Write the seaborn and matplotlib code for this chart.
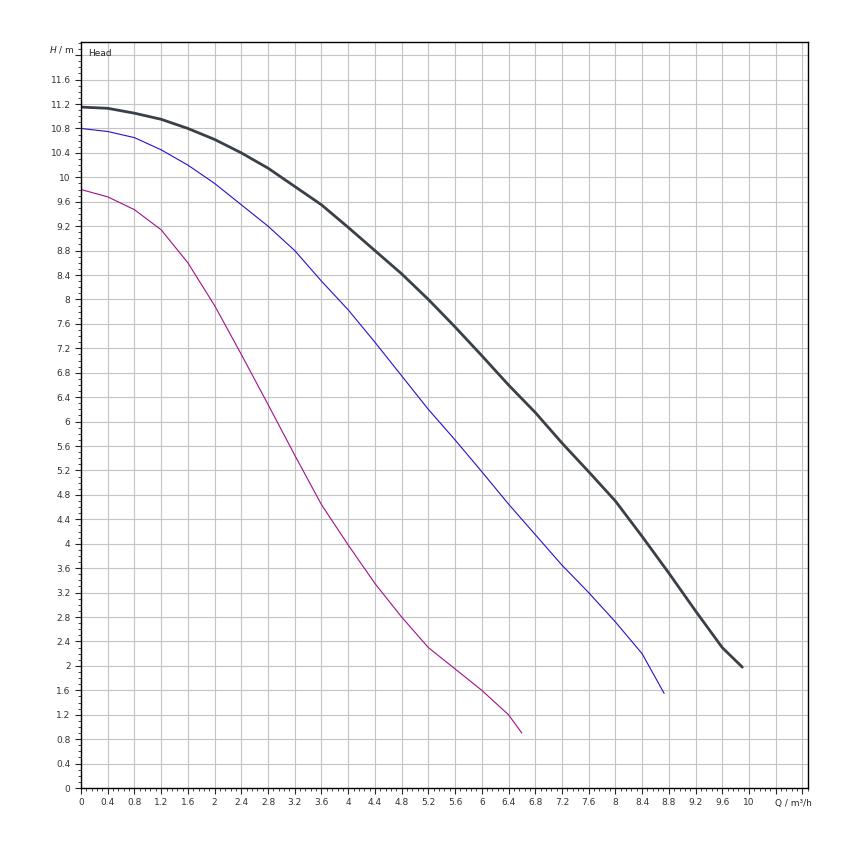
import numpy as np
import matplotlib
matplotlib.use("Agg")
import matplotlib.pyplot as plt
import seaborn as sns
from matplotlib.ticker import MultipleLocator

q_black = [0, 0.4, 0.8, 1.2, 1.6, 2, 2.4, 2.8, 3.2, 3.6, 4, 4.4, 4.8, 5.2, 5.6, 6, 6.4, 6.8, 7.2, 7.6, 8, 8.4, 8.8, 9.2, 9.6, 9.9]
h_black = [11.15, 11.13, 11.05, 10.95, 10.8, 10.62, 10.4, 10.15, 9.85, 9.55, 9.18, 8.8, 8.42, 8.0, 7.55, 7.08, 6.6, 6.15, 5.65, 5.18, 4.7, 4.12, 3.52, 2.9, 2.3, 1.98]
q_blue = [0, 0.4, 0.8, 1.2, 1.6, 2, 2.4, 2.8, 3.2, 3.6, 4, 4.4, 4.8, 5.2, 5.6, 6, 6.4, 6.8, 7.2, 7.6, 8, 8.4, 8.73]
h_blue = [10.8, 10.75, 10.65, 10.45, 10.2, 9.9, 9.55, 9.2, 8.8, 8.3, 7.83, 7.3, 6.75, 6.2, 5.7, 5.18, 4.65, 4.15, 3.65, 3.2, 2.72, 2.2, 1.55]
q_mag = [0, 0.4, 0.8, 1.2, 1.6, 2, 2.4, 2.8, 3.2, 3.6, 4, 4.4, 4.8, 5.2, 5.6, 6, 6.4, 6.6]
h_mag = [9.8, 9.68, 9.47, 9.14, 8.6, 7.9, 7.1, 6.28, 5.45, 4.64, 3.98, 3.35, 2.8, 2.3, 1.95, 1.6, 1.2, 0.9]

sns.set_style("white")
plt.rcParams['font.family'] = ['DejaVu Sans']
fig = plt.figure(figsize=(8.5, 8.5), dpi=100)
ax = fig.add_axes([0.0953, 0.0729, 0.855, 0.878])

for q, h, c, lw in [(q_black, h_black, "#3a4048", 2.0), (q_blue, h_blue, "#2a10c8", 0.8), (q_mag, h_mag, "#a0108a", 0.8)]:
    sns.lineplot(x=q, y=h, ax=ax, color=c, lw=lw, sort=False, estimator=None)

ax.set_xlim(0, 10.88)
ax.set_ylim(0, 12.22)
ax.xaxis.set_minor_locator(MultipleLocator(0.08))
ax.yaxis.set_minor_locator(MultipleLocator(0.1))
xt = np.arange(0, 10.81, 0.4)
ax.set_xticks(xt)
ax.set_xticklabels([("%g" % round(v, 1)) if v <= 10.01 else "" for v in xt], fontsize=6.5, color="#333")
yt = np.arange(0, 12.01, 0.4)
ax.set_yticks(yt)
ax.set_yticklabels([("%g" % round(v, 1)) if v <= 11.61 else "" for v in yt], fontsize=6.5, color="#333")
ax.grid(True, which="major", color="#c4c4c4", lw=0.8)
ax.tick_params(which="major", length=4, direction="out", left=True, bottom=True)
ax.tick_params(which="minor", length=2.5, direction="out", left=True, bottom=True)
for s in ax.spines.values():
    s.set_color("black"); s.set_linewidth(1)
ax.text(0.01, 0.99, "Head", transform=ax.transAxes, fontsize=6.5, va="top", ha="left")
fig.text(0.058, 0.942, "$\\it{H}$ / m", fontsize=6.5, ha="left", va="center")
fig.text(0.912, 0.055, "Q / m³/h", fontsize=6.5, ha="left", va="center")
fig.savefig("out.png", dpi=100, facecolor="white")
